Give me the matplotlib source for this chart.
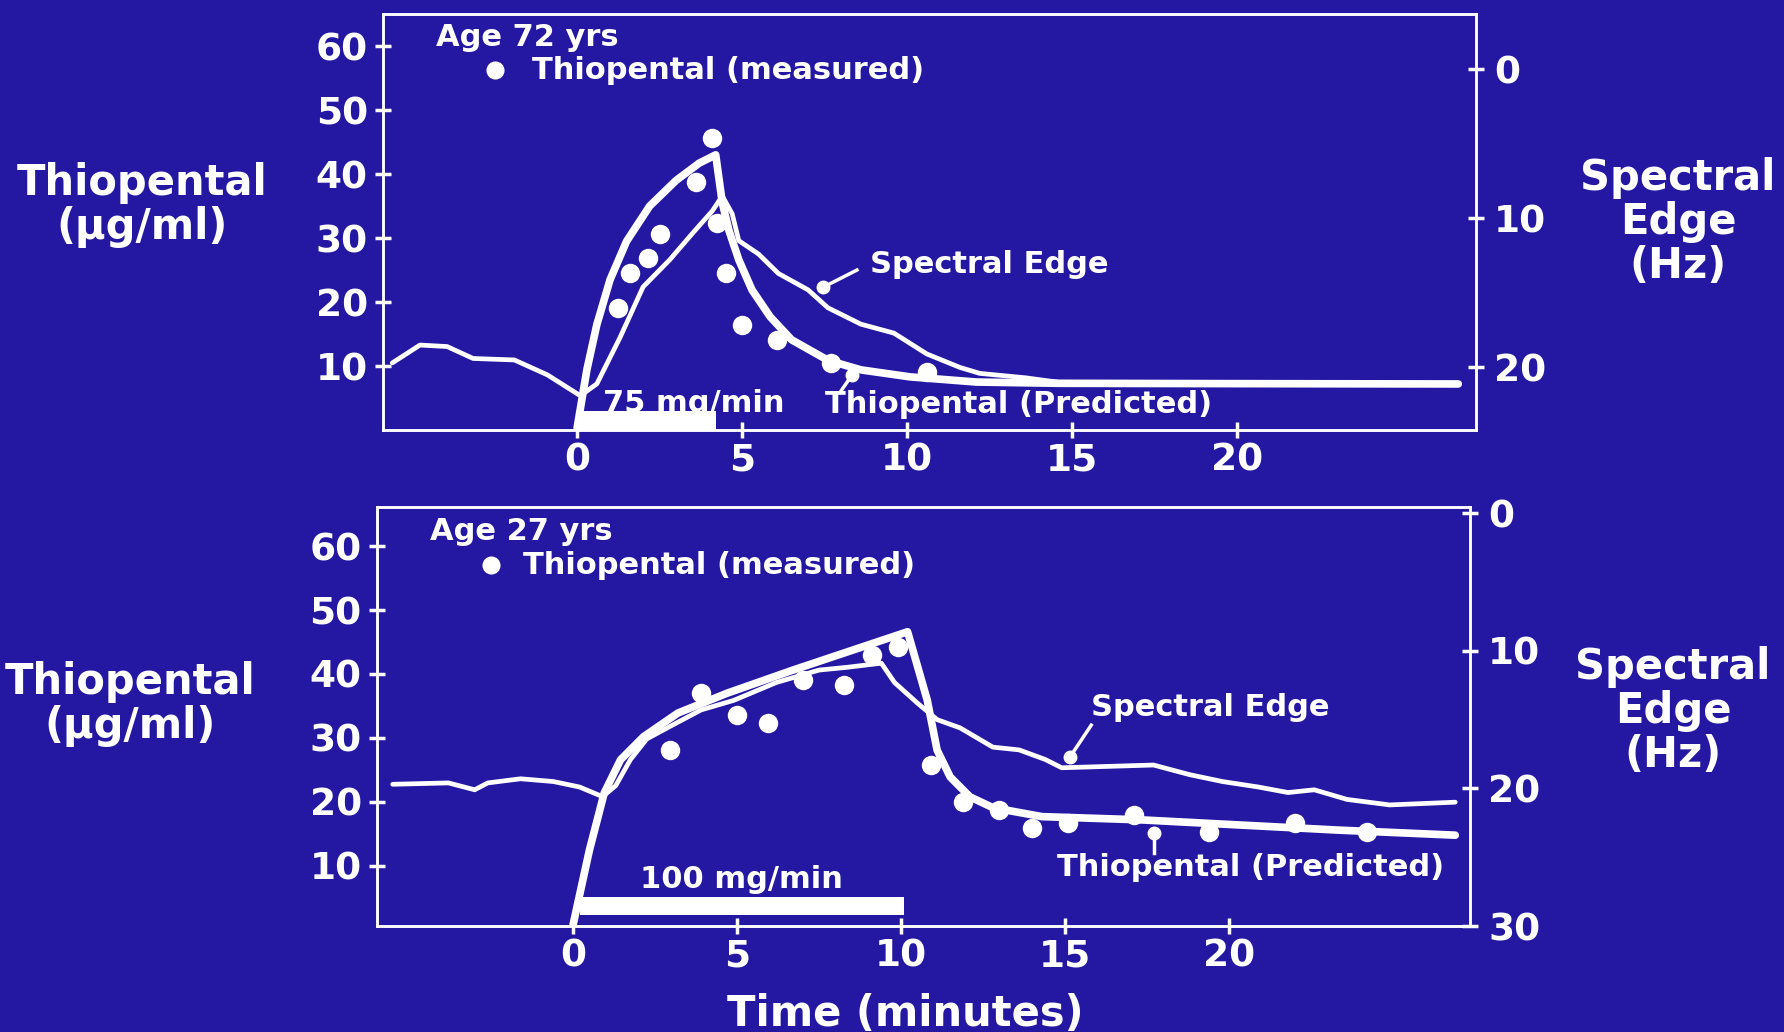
import matplotlib
matplotlib.use("Agg")
import matplotlib.pyplot as plt
from matplotlib.patches import Rectangle

BG = "#2418a3"
FG = "white"

# time axis labels
x_ticks = [0, 5, 10, 15, 20]
conc_ticks = [10, 20, 30, 40, 50, 60]

# ---- top panel: age 72 yrs, 75 mg/min ----
top_pred_t = [0, 0.3, 0.6, 1.0, 1.5, 2.2, 3.0, 3.7, 4.2, 4.4, 4.6, 4.9, 5.3,
              5.85, 6.5, 7.6, 8.6, 10.1, 12.1, 14.6, 20.0, 26.7]
top_pred_c = [0.3, 9.5, 16.5, 23.5, 29.5, 35.0, 39.0, 41.7, 43.0, 35.5, 31.2,
              26.6, 21.9, 17.7, 14.1, 10.9, 9.4, 8.3, 7.5, 7.3, 7.25, 7.2]
top_se_t = [-5.6, -4.76, -3.94, -3.15, -1.9, -0.9, 0.1, 0.6, 1.3, 2.0, 2.8,
            3.5, 4.1, 4.4, 4.7, 4.9, 5.5, 6.1, 7.0, 7.6, 8.6, 9.6, 10.6, 11.6,
            12.2, 13.6, 14.6, 20.0, 26.7]
top_se_hz = [19.7, 18.5, 18.6, 19.4, 19.5, 20.5, 21.9, 21.1, 18.0, 14.6, 12.8,
             11.0, 9.5, 8.5, 9.7, 11.5, 12.4, 13.7, 14.8, 16.0, 17.1, 17.7,
             19.1, 20.0, 20.4, 20.7, 21.0, 21.05, 21.1]
top_meas_t = [1.25, 1.6, 2.15, 2.5, 3.6, 4.1, 4.25, 4.5, 5.0, 6.06, 7.7, 10.6]
top_meas_c = [19.0, 24.5, 26.9, 30.7, 38.8, 45.6, 32.3, 24.5, 16.4, 14.1, 10.5, 9.1]
top_inf = (0.0, 4.2, 0.0, 3.0)  # t0, t1, y0, y1
top_se_ticks = [0, 10, 20]

# ---- bottom panel: age 27 yrs, 100 mg/min ----
bot_pred_t = [0, 0.5, 0.95, 1.45, 2.15, 3.2, 4.7, 6.7, 8.8, 10.2, 10.8, 11.1,
              11.5, 12.1, 12.8, 14.3, 15.5, 17.3, 20.3, 23.3, 26.9]
bot_pred_c = [0.8, 12.5, 21.4, 26.6, 30.2, 33.9, 37.0, 40.6, 44.2, 46.6, 35.9,
              28.1, 23.9, 20.8, 19.1, 17.7, 17.5, 17.2, 16.4, 15.6, 14.8]
bot_se_t = [-5.5, -3.8, -3.0, -2.6, -1.6, -0.6, 0.2, 0.9, 1.3, 1.75, 2.25,
            2.95, 3.9, 4.9, 6.2, 7.5, 8.35, 9.4, 9.8, 10.5, 11.1, 11.8, 12.8,
            13.6, 14.4, 14.9, 16.3, 17.7, 18.8, 19.8, 20.9, 21.8, 22.6, 23.6,
            24.9, 26.9]
bot_se_hz = [19.7, 19.6, 20.1, 19.6, 19.3, 19.5, 19.9, 20.6, 19.8, 17.9, 16.4,
             15.5, 14.3, 13.6, 12.3, 11.4, 11.2, 10.9, 12.3, 13.8, 15.0, 15.6,
             17.0, 17.2, 17.9, 18.5, 18.4, 18.3, 19.0, 19.5, 19.9, 20.3, 20.1,
             20.8, 21.2, 21.0]
bot_meas_t = [2.95, 3.9, 5.0, 5.95, 7.0, 8.25, 9.1, 9.9, 10.9, 11.9, 13.0,
              14.0, 15.1, 17.1, 19.4, 22.0, 24.2]
bot_meas_c = [28.1, 37.0, 33.6, 32.3, 39.1, 38.3, 43.0, 44.2, 25.8, 20.0, 18.8,
              15.9, 16.7, 18.0, 15.3, 16.7, 15.3]
bot_inf = (0.2, 10.1, 2.3, 5.2)
bot_se_ticks = [0, 10, 20, 30]

plt.rcParams["font.family"] = ["DejaVu Sans"]
plt.rcParams["font.weight"] = "bold"

fig = plt.figure(figsize=(17.84, 10.32), dpi=100, facecolor=BG)


def panel(rect, xlim, ylim, ylim_r, pred, se, meas, inf, se_ticks):
    ax = fig.add_axes(rect, facecolor=BG)
    ax.set_xlim(*xlim)
    ax.set_ylim(*ylim)
    for s in ax.spines.values():
        s.set_color(FG)
        s.set_linewidth(1.8)
    ax.set_xticks(x_ticks)
    ax.set_yticks(conc_ticks)
    ax.tick_params(colors=FG, labelsize=27, direction="inout", length=12,
                   width=2.5)
    ax.tick_params(axis="x", pad=3)
    ax.tick_params(axis="y", pad=5)
    for lab in ax.get_xticklabels() + ax.get_yticklabels():
        lab.set_fontweight("bold")

    ax2 = ax.twinx()
    ax2.set_ylim(*ylim_r)
    ax2.set_yticks(se_ticks)
    ax2.tick_params(colors=FG, labelsize=27, direction="inout", length=12,
                    width=2.5, pad=7)
    for lab in ax2.get_yticklabels():
        lab.set_fontweight("bold")
    for s in ax2.spines.values():
        s.set_color(FG)
        s.set_linewidth(1.8)

    ax.plot(pred[0], pred[1], color=FG, lw=5.5, solid_capstyle="round",
            solid_joinstyle="round", zorder=4)
    ax2.plot(se[0], se[1], color=FG, lw=3.4, solid_capstyle="round",
             solid_joinstyle="round", zorder=3)
    ax.plot(meas[0], meas[1], "o", color=FG, ms=14, mec="none", zorder=5)
    t0, t1, y0, y1 = inf
    ax.add_patch(Rectangle((t0, y0), t1 - t0, y1 - y0, color=FG, lw=0, zorder=4))
    return ax


def leader(ax, dot, end):
    ax.plot([dot[0], end[0]], [dot[1], end[1]], color=FG, lw=2.5, zorder=6)
    ax.plot([dot[0]], [dot[1]], "o", color=FG, ms=9, zorder=6)


txt = dict(color=FG, fontsize=22, fontweight="bold", va="center")

# top panel
ax1 = panel([0.2147, 0.5833, 0.6127, 0.4031], (-5.88, 27.24), (0, 65.0),
            (24.2, -3.7), (top_pred_t, top_pred_c), (top_se_t, top_se_hz),
            (top_meas_t, top_meas_c), top_inf, top_se_ticks)
ax1.text(-4.27, 61.3, "Age 72 yrs", **txt)
ax1.plot([-2.5], [56.2], "o", color=FG, ms=12)
ax1.text(-1.36, 56.2, "Thiopental (measured)", **txt)
ax1.text(8.88, 25.8, "Spectral Edge", **txt)
leader(ax1, (7.45, 22.3), (8.48, 25.0))
ax1.text(0.8, 4.2, "75 mg/min", **txt)
ax1.text(7.5, 4.0, "Thiopental (Predicted)", **txt)
leader(ax1, (8.33, 8.6), (7.97, 5.9))

# bottom panel
ax3 = panel([0.2113, 0.1027, 0.6127, 0.406], (-5.98, 27.35), (0.6, 66.1),
            (29.95, -0.45), (bot_pred_t, bot_pred_c), (bot_se_t, bot_se_hz),
            (bot_meas_t, bot_meas_c), bot_inf, bot_se_ticks)
ax3.text(-4.36, 62.2, "Age 27 yrs", **txt)
ax3.plot([-2.5], [57.0], "o", color=FG, ms=12)
ax3.text(-1.52, 57.0, "Thiopental (measured)", **txt)
ax3.text(15.8, 34.7, "Spectral Edge", **txt)
leader(ax3, (15.15, 27.0), (15.8, 32.0))
ax3.text(2.04, 7.8, "100 mg/min", **txt)
ax3.text(14.75, 9.7, "Thiopental (Predicted)", **txt)
leader(ax3, (17.7, 15.2), (17.7, 12.0))

lab = dict(color=FG, fontsize=30, fontweight="bold", ha="center", va="center",
           linespacing=1.05)
fig.text(0.0796, 0.8014, "Thiopental\n(µg/ml)", **lab)
fig.text(0.0729, 0.318, "Thiopental\n(µg/ml)", **lab)
fig.text(0.9406, 0.7849, "Spectral\nEdge\n(Hz)", **lab)
fig.text(0.9378, 0.311, "Spectral\nEdge\n(Hz)", **lab)
fig.text(0.5073, 0.0174, "Time (minutes)", **lab)

fig.savefig("out.png", dpi=100, facecolor=BG)
